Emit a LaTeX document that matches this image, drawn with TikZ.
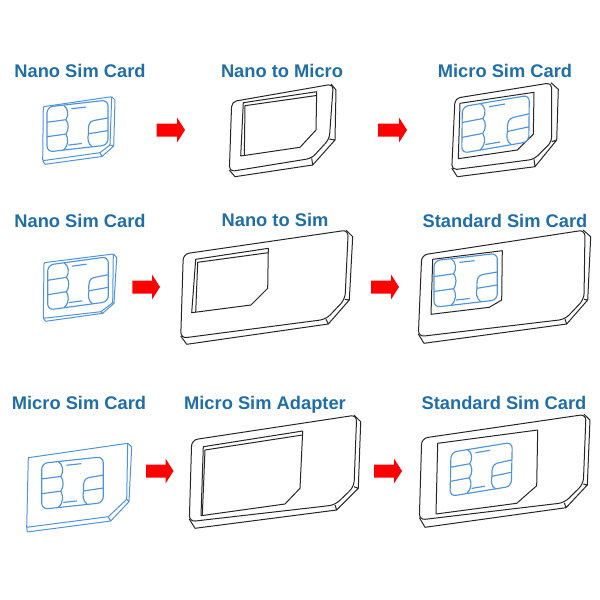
\documentclass[tikz,border=0pt]{standalone}
\usepackage{fontspec}
\setmainfont{Liberation Sans}
\definecolor{titleblue}{HTML}{1F6EA6}
\definecolor{simblue}{HTML}{4F93D8}
\definecolor{cardblack}{HTML}{262626}
\tikzset{
  title/.style={font=\bfseries\fontsize{18.3}{20}\selectfont,text=titleblue,inner sep=0pt,anchor=base},
  bigarrow/.style={fill=red,draw=none},
  cardline/.style={line width=1pt,line join=round},
}
\newcommand{\simcard}[7][cardblack]{%
  \draw[cardline,draw=#1,rounded corners=#7pt] (#2) -- (#3) -- (#4) -- (#5) -- (#6) -- cycle;
}
\newcommand{\simlip}[9]{%
  \draw[cardline,draw=#1] (#2) -- (#3) -- (#4) -- (#5) -- (#6) (#7) -- (#4) (#8) -- (#5);
  \draw[cardline,draw=#1] (#9) -- (#6);
}
\newcommand{\simchip}[6]{%
  \begin{scope}[shift={(#1,#2)},x={({#3*1pt},{-(#4)*1pt})},y={({#5*1pt},{-(#6)*1pt})},draw=simblue,cardline,line width=1.15pt]
    \draw[rounded corners=6pt] (0,0) -- (1,0) -- (1,1) -- (0,1) -- cycle;
    \draw (.27,0) .. controls (.35,.08) and (.36,.24) .. (.31,.33)
          .. controls (.36,.42) and (.36,.56) .. (.31,.65)
          .. controls (.35,.76) and (.36,.90) .. (.27,1);
    \draw (0,.34) -- (.31,.33) (0,.66) -- (.31,.65);
    \draw (1,.40) -- (.76,.42) .. controls (.69,.44) and (.67,.50) .. (.68,.70)
          .. controls (.66,.80) and (.67,.92) .. (.74,1);
    \draw (.68,.70) -- (1,.68);
    \draw (.40,.10) -- (.64,.10) (.35,.90) -- (.57,.90);
  \end{scope}
}
\newcommand{\blockarrow}[3]{% left x, right x, centre y
  \fill[bigarrow] (#1,#3-6.5) -- ({#2-8},#3-6.5) -- ({#2-8},#3-12.5) -- (#2,#3) -- ({#2-8},#3+12.5) -- ({#2-8},#3+6.5) -- (#1,#3+6.5) -- cycle;
}
\begin{document}
\begin{tikzpicture}[x=1pt,y=-1pt]
\useasboundingbox (0,0) rectangle (600,600);
% titles
\node[title] (t1) at (80,77.5) {Nano Sim Card};
\node[title] (t2) at (282,77.5) {Nano to Micro};
\node[title] (t3) at (505,77.5) {Micro Sim Card};
\node[title] (t4) at (80,227) {Nano Sim Card};
\node[title] (t5) at (275,226) {Nano to Sim};
\node[title] (t6) at (505,227) {Standard Sim Card};
\node[title] (t7) at (79,409) {Micro Sim Card};
\node[title] (t8) at (265,409) {Micro Sim Adapter};
\node[title] (t9) at (504,409) {Standard Sim Card};
% row 1
\simcard[simblue]{43.3,106.7}{111.7,96.7}{110,145}{100,152.7}{42.7,160.7}{1}
\simlip{simblue}{111.7,96.7}{115,100}{113.7,146}{102,156.5}{45,164.3}{110,145}{100,152.7}{42.7,160.7}
\simchip{47}{107}{61}{-7}{0}{45}
\simcard{231.7,101.7}{333.3,84}{329.3,139}{311.7,158.3}{229.3,171.7}{5}
\simlip{cardblack}{331,84}{336,90}{335,140}{312.7,165}{235,176.7}{329.3,139}{311.7,158.3}{229.3,170}
\draw[cardline,draw=cardblack] (243.3,102.7) -- (316.7,91.7) -- (316,130) -- (300,147.3) -- (240.7,156) -- cycle;
\draw[cardline,draw=cardblack] (316.5,95.5) -- (245,105.7) -- (244.3,155.5);
\simcard{455,98.3}{551.7,82.7}{551.7,141.7}{534,159.3}{451.7,170}{5}
\simlip{cardblack}{551,82.7}{558.3,89.3}{556.7,140}{535,166.7}{457.3,176.7}{551.7,141.7}{534,159.3}{451.7,168}
\draw[cardline,draw=cardblack] (460,103.3) -- (534,92.3) -- (533.3,134.3) -- (517.3,150) -- (458.3,158.7) -- cycle;
\simchip{462.3}{106.7}{67}{-11.5}{-.5}{46.5}
% row 2
\simcard[simblue]{44,262.7}{113.3,254}{112.7,302.7}{101,311.7}{43.3,318.3}{1}
\simlip{simblue}{113.3,254}{116.7,257.3}{114,303.3}{102.7,313.3}{45.7,321.3}{112.7,302.7}{101,311.7}{43.3,318.3}
\simchip{47.7}{265}{60.6}{-8.3}{0}{45}
\simcard{183.3,254}{348.3,230}{345,299.3}{326,319.3}{180.7,338.3}{6}
\simlip{cardblack}{346,230}{352.7,236.7}{349.3,300}{328.3,324}{186.7,344.3}{345,299.3}{326,319.3}{180.7,336}
\draw[cardline,draw=cardblack] (195.7,259.3) -- (268.3,248.3) -- (267.7,288.3) -- (251,305) -- (191.7,312.7) -- cycle;
\draw[cardline,draw=cardblack] (268.3,252.7) -- (197.7,262.3) -- (195.7,312.2);
\simcard{421.7,255}{585,230}{584,299.3}{565,319.3}{418.3,336.7}{6}
\simlip{cardblack}{583,230}{590.7,236.7}{587.7,300}{566.7,324}{424,343.3}{584,299.3}{565,319.3}{418.3,334}
\draw[cardline,draw=cardblack] (432.7,259.3) -- (502.3,250.7) -- (501.7,300) -- (489.3,307.3) -- (431,314.3) -- cycle;
\simchip{434}{260.7}{63.3}{-7.4}{0}{46.6}
% row 3
\simcard[simblue]{28.3,457.7}{127.7,443.3}{126.7,499.3}{108.3,516.7}{26.7,527.3}{0}
\simlip{simblue}{127.7,443.3}{131.7,446.7}{129,501.7}{110.7,521}{27.3,532}{126.7,499.3}{108.3,516.7}{26.7,527.3}
\simchip{41.7}{463.3}{61.6}{-6.6}{0}{46}
\simcard{191.7,440}{356.7,415}{354,486.7}{335,505}{189.3,521.7}{6}
\simlip{cardblack}{354,415}{360.7,421.7}{358.3,488.3}{336.7,510}{195,528.3}{354,486.7}{335,505}{189.3,519}
\draw[cardline,draw=cardblack] (203.3,446.7) -- (302.7,431) -- (300,488.3) -- (285,504) -- (201,515.7) -- cycle;
\draw[cardline,draw=cardblack] (302.4,435) -- (205,450) -- (202.3,515.5);
\simcard{421.7,438.3}{586,414.3}{583.3,484}{564.3,502.7}{419.3,520}{6}
\simlip{cardblack}{584,414.3}{590,420}{587.3,485}{566,507.7}{425,527.3}{583.3,484}{564.3,502.7}{419.3,517.5}
\draw[cardline,draw=cardblack] (437.7,443.3) -- (537.7,430) -- (536.7,485.7) -- (516.7,503.3) -- (436,514) -- cycle;
\simchip{451}{452.3}{61.3}{-10}{-1}{44}
% arrows
\blockarrow{156.7}{185}{130}
\blockarrow{378}{407}{130}
\blockarrow{132.3}{160}{287}
\blockarrow{371}{399}{287}
\blockarrow{146}{173.5}{471}
\blockarrow{374}{402}{471}
\end{tikzpicture}
\end{document}
